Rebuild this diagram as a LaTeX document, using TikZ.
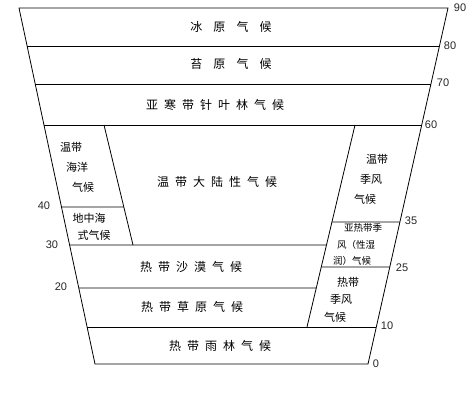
\documentclass[tikz,border=0pt]{standalone}
\usepackage{fontspec}
\setmainfont{Liberation Sans}
\newfontfamily\cjk{Noto Sans CJK SC}
\usetikzlibrary{calc}

\tikzset{
  zone/.style={font=\cjk\fontsize{12}{14}\selectfont},
  cell/.style={font=\cjk\fontsize{11}{13}\selectfont},
  tiny/.style={font=\cjk\fontsize{9.5}{11}\selectfont},
  lat/.style={font=\fontsize{11}{13}\selectfont, text=black!85}
}

\begin{document}
\begin{tikzpicture}[x=1pt,y=-1pt,inner sep=0pt,line width=0.8pt]
\useasboundingbox (0,0) rectangle (476,409);
\def\g{0.92em}
\def\h{0.5em}
% outer frame
\coordinate (tl) at (19,8);
\coordinate (tr) at (448,8);
\coordinate (bl) at (95,364);
\coordinate (br) at (368,364);
\draw (tl) -- (tr) -- (br) -- (bl) -- cycle;

% points on the outer edges
\coordinate (l80) at ($(tl)!0.1067!(bl)$);
\coordinate (r80) at ($(tr)!0.1067!(br)$);
\coordinate (l70) at ($(tl)!0.2135!(bl)$);
\coordinate (r70) at ($(tr)!0.2135!(br)$);
\coordinate (l60) at ($(tl)!0.3287!(bl)$);
\coordinate (r60) at ($(tr)!0.3287!(br)$);
\coordinate (l40) at ($(tl)!0.5590!(bl)$);
\coordinate (r35) at ($(tr)!0.6011!(br)$);
\coordinate (l30) at ($(tl)!0.6657!(bl)$);
\coordinate (r25) at ($(tr)!0.7275!(br)$);
\coordinate (l20) at ($(tl)!0.7865!(bl)$);
\coordinate (l10) at ($(tl)!0.8961!(bl)$);
\coordinate (r10) at ($(tr)!0.8961!(br)$);

% inner dividing lines
\coordinate (a60) at (104,125);
\coordinate (a30) at (133,245);
\coordinate (a40) at ($(a60)!0.683!(a30)$);
\coordinate (b60) at (355,125);
\coordinate (b10) at (307,327);
\coordinate (b35) at ($(b60)!0.480!(b10)$);
\coordinate (b30) at ($(b60)!0.594!(b10)$);
\coordinate (b25) at ($(b60)!0.703!(b10)$);
\coordinate (b20) at ($(b60)!0.807!(b10)$);

\draw (l80) -- (r80);
\draw (l70) -- (r70);
\draw (l60) -- (r60);
\draw (l40) -- (a40);
\draw (l30) -- (b30);
\draw (l20) -- (b20);
\draw (l10) -- (r10);
\draw (b35) -- (r35);
\draw (b25) -- (r25);
\draw (a60) -- (a30);
\draw (b60) -- (b10);

% latitude marks
\node[lat] (n90) at (460,8) {90};
\node[lat] (n80) at (450,46) {80};
\node[lat] (n70) at (443,83) {70};
\node[lat] (n60) at (431,125) {60};
\node[lat] (n35) at (411,221) {35};
\node[lat] (n25) at (402,268) {25};
\node[lat] (n10) at (387,326) {10};
\node[lat] (n0) at (376,364) {0};
\node[lat] (n40) at (44,206) {40};
\node[lat] (n30) at (52,245) {30};
\node[lat] (n20) at (61,287) {20};

% climate zones
\node[zone] (bing) at (231,27) {冰\hspace{\g}原\hspace{\g}气\hspace{\g}候};
\node[zone] (tai) at (231,64) {苔\hspace{\g}原\hspace{\g}气\hspace{\g}候};
\node[zone] (han) at (215,105) {亚\hspace{\h}寒\hspace{\h}带\hspace{\h}针\hspace{\h}叶\hspace{\h}林\hspace{\h}气\hspace{\h}候};
\node[zone] (dalu) at (217,182) {温\hspace{\h}带\hspace{\h}大\hspace{\h}陆\hspace{\h}性\hspace{\h}气\hspace{\h}候};
\node[zone] (shamo) at (191,267) {热\hspace{\h}带\hspace{\h}沙\hspace{\h}漠\hspace{\h}气\hspace{\h}候};
\node[zone] (caoyuan) at (192,307) {热\hspace{\h}带\hspace{\h}草\hspace{\h}原\hspace{\h}气\hspace{\h}候};
\node[zone] (yulin) at (220,346) {热\hspace{\h}带\hspace{\h}雨\hspace{\h}林\hspace{\h}气\hspace{\h}候};

\node[cell] (hy1) at (71,147) {温带};
\node[cell] (hy2) at (77,167) {海洋};
\node[cell] (hy3) at (83,187) {气候};
\node[cell] (dz1) at (89,218) {地中海};
\node[cell] (dz2) at (94,235) {式气候};
\node[cell] (wj1) at (377,159) {温带};
\node[cell] (wj2) at (371,179) {季风};
\node[cell] (wj3) at (365,199) {气候};
\node[tiny] (yr1) at (363,228) {亚热带季};
\node[tiny] (yr2) at (356,245) {风（性湿};
\node[tiny] (yr3) at (352,261) {润）气候};
\node[cell] (rj1) at (348,282) {热带};
\node[cell] (rj2) at (341,299) {季风};
\node[cell] (rj3) at (335,317) {气候};
\end{tikzpicture}
\end{document}
